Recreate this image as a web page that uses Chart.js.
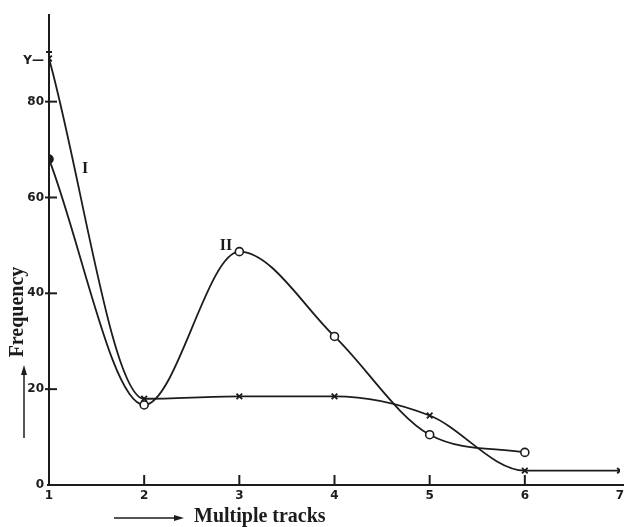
<!DOCTYPE html>
<html>
<head>
<meta charset="utf-8">
<script src="https://cdn.jsdelivr.net/npm/chart.js@4/dist/chart.umd.min.js"></script>
<style>
    html, body { margin: 0; padding: 0; background: #ffffff; }
    #wrap { width: 628px; height: 527px; }
</style>
</head>
<body>
<div id="wrap"><canvas id="frequencyChart" width="628" height="527"></canvas></div>
<script>
// Number of tracks on the x axis.
const tracks = [1, 2, 3, 4, 5, 6, 7];

// Curve I (crosses).
const curveOne = [89, 18, 18.5, 18.5, 14.5, 3, 3];

// Curve II (circles); no value at 7.
const curveTwo = [68, 16.7, 48.7, 31, 10.5, 6.8, null];

// Tick labels on the axes.
const yTicks = [0, 20, 40, 60, 80];
const xTicks = [1, 2, 3, 4, 5, 6, 7];

// Curve names written next to the lines, with their data positions.
const curveNames = ["I", "II"];
const nameX = [1.38, 2.86];
const nameY = [66, 50];

const ink = "#1c1c1c";

// This turns the value arrays into {x, y} points.
function toPoints(values) {
    return tracks.map((t, i) => ({ x: t, y: values[i] }));
}

// This plugin draws axes, tick marks, arrows, titles and curve names like the hand drawing.
const drawingPlugin = {
    id: "drawing",
    afterDatasetsDraw(chart) {
        const ctx = chart.ctx;
        const xs = chart.scales.x;
        const ys = chart.scales.y;
        const left = xs.getPixelForValue(1);
        const bottom = ys.getPixelForValue(0);

        ctx.save();
        ctx.strokeStyle = ink;
        ctx.fillStyle = ink;
        ctx.lineWidth = 2;

        // y axis line, running above the last tick
        ctx.beginPath();
        ctx.moveTo(left, bottom);
        ctx.lineTo(left, 14);
        ctx.stroke();

        // x axis line
        ctx.beginPath();
        ctx.moveTo(left - 2, bottom);
        ctx.lineTo(624, bottom);
        ctx.stroke();

        // y tick marks and labels
        ctx.font = "bold 12px 'DejaVu Sans'";
        ctx.textAlign = "right";
        ctx.textBaseline = "middle";
        yTicks.forEach(v => {
            const py = ys.getPixelForValue(v);
            if (v > 0) {
                ctx.beginPath();
                ctx.moveTo(left - 4, py);
                ctx.lineTo(left + 8, py);
                ctx.stroke();
            }
            ctx.fillText(String(v), left - 5, py);
        });

        // the "Y" mark near the top of the y axis
        ctx.fillText("Y\u2014", left - 5, 61);
        ctx.beginPath();
        ctx.moveTo(left - 3, 52);
        ctx.lineTo(left + 3, 52);
        ctx.stroke();

        // x tick marks and labels
        ctx.textAlign = "center";
        ctx.textBaseline = "top";
        xTicks.forEach(v => {
            const px = xs.getPixelForValue(v);
            if (v > 1 && v < 7) {
                ctx.beginPath();
                ctx.moveTo(px, bottom);
                ctx.lineTo(px, bottom - 10);
                ctx.stroke();
            }
            ctx.fillText(String(v), px, bottom + 5);
        });

        // curve names
        ctx.font = "bold 16px 'Liberation Serif'";
        ctx.textBaseline = "middle";
        curveNames.forEach((name, i) => {
            ctx.fillText(name, xs.getPixelForValue(nameX[i]), ys.getPixelForValue(nameY[i]));
        });

        // y title with its arrow
        ctx.save();
        ctx.translate(18, 312);
        ctx.rotate(-Math.PI / 2);
        ctx.font = "bold 20px 'Liberation Serif'";
        ctx.textAlign = "center";
        ctx.fillText("Frequency", 0, 0);
        ctx.restore();
        ctx.lineWidth = 1.5;
        ctx.beginPath();
        ctx.moveTo(24, 438);
        ctx.lineTo(24, 372);
        ctx.stroke();
        ctx.beginPath();
        ctx.moveTo(24, 365);
        ctx.lineTo(21, 375);
        ctx.lineTo(27, 375);
        ctx.closePath();
        ctx.fill();

        // x title with its arrow
        ctx.font = "bold 20px 'Liberation Serif'";
        ctx.textAlign = "left";
        ctx.textBaseline = "middle";
        ctx.fillText("Multiple tracks", 194, 517);
        ctx.beginPath();
        ctx.moveTo(114, 518);
        ctx.lineTo(176, 518);
        ctx.stroke();
        ctx.beginPath();
        ctx.moveTo(184, 518);
        ctx.lineTo(174, 515);
        ctx.lineTo(174, 521);
        ctx.closePath();
        ctx.fill();

        ctx.restore();
    }
};

new Chart(document.getElementById("frequencyChart"), {
    type: "line",
    data: {
        datasets: [
            {
                label: "I",
                data: toPoints(curveOne),
                borderColor: ink,
                borderWidth: 1.8,
                cubicInterpolationMode: "monotone",
                pointStyle: "crossRot",
                pointRadius: 4,
                pointBorderWidth: 1.8,
                pointBorderColor: ink,
                fill: false
            },
            {
                label: "II",
                data: toPoints(curveTwo),
                borderColor: ink,
                borderWidth: 1.8,
                cubicInterpolationMode: "monotone",
                pointStyle: "circle",
                pointRadius: 4,
                pointBorderWidth: 1.6,
                pointBorderColor: ink,
                pointBackgroundColor: ctx => ctx.dataIndex === 0 ? ink : "#ffffff",
                spanGaps: false,
                fill: false
            }
        ]
    },
    options: {
        responsive: false,
        animation: false,
        layout: { padding: { left: 0, right: 8, top: 0, bottom: 0 } },
        plugins: {
            legend: { display: false },
            tooltip: { enabled: false }
        },
        scales: {
            x: {
                type: "linear",
                min: 1,
                max: 7,
                grid: { display: false },
                border: { display: false },
                ticks: { display: false },
                afterFit: s => { s.height = 42; }
            },
            y: {
                min: 0,
                max: 100,
                grid: { display: false },
                border: { display: false },
                ticks: { display: false },
                afterFit: s => { s.width = 49; }
            }
        }
    },
    plugins: [drawingPlugin]
});
</script>
</body>
</html>
